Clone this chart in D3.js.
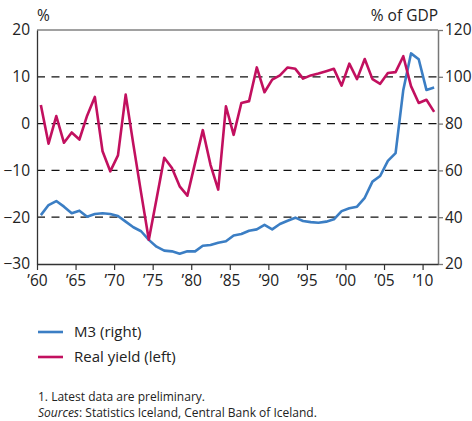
<!DOCTYPE html>
<html>
<head>
<meta charset="utf-8" />
<script src="https://d3js.org/d3.v7.min.js"></script>
<style>
	body { margin: 0; background: #fff; }
	svg text { font-family: "Open Sans", "Noto Sans", sans-serif; fill: #222; }
</style>
</head>
<body>
<div id="chart"></div>
<script>
// annual data, 1960-2011
var years = d3.range(1960, 2012);

// Real yield, % (left axis)
var realYield = [4.0, -4.3, 1.6, -4.1, -1.9, -3.4, 1.7, 5.7, -5.9, -10.2,
	-6.8, 6.2, -4.5, -14.8, -24.8, -16.1, -7.3, -9.5, -13.4, -15.4,
	-8.4, -1.4, -8.8, -14.1, 3.7, -2.4, 4.4, 4.8, 12.0, 6.7,
	9.4, 10.3, 12.0, 11.7, 9.6, 10.3, 10.7, 11.2, 11.7, 8.1,
	12.8, 9.5, 13.8, 9.5, 8.5, 10.8, 11.0, 14.4, 8.0, 4.4,
	5.1, 2.5];

// M3, % of GDP (right axis)
var m3 = [40.9, 45.2, 46.9, 44.5, 41.7, 42.8, 40.2, 41.4, 41.7, 41.4,
	40.5, 38.1, 35.7, 34.0, 30.3, 27.4, 25.7, 25.4, 24.4, 25.4,
	25.4, 27.8, 28.1, 29.1, 29.7, 32.2, 32.8, 34.2, 34.8, 36.7,
	34.8, 37.1, 38.5, 39.8, 38.4, 37.9, 37.6, 38.1, 39.1, 42.6,
	43.8, 44.5, 48.3, 55.2, 57.6, 64.1, 67.4, 94.4, 110.0, 107.5,
	94.4, 95.4];

var leftTicks = [20, 10, 0, -10, -20, -30];
var rightTicks = [120, 100, 80, 60, 40, 20];
var gridLines = [10, 0, -10, -20];
var xTicks = [1960, 1965, 1970, 1975, 1980, 1985, 1990, 1995, 2000, 2005, 2010];

var seriesNames = ["M3 (right)", "Real yield (left)"];
var colors = ["#3b7ec4", "#c2105f"];

var W = 472, H = 421;
var margin = { top: 30, left: 37, right: 34, bottom: 157 };
var width = W - margin.left - margin.right,
	height = H - margin.top - margin.bottom;

var svg = d3.select("#chart").append("svg")
	.attr("width", W)
	.attr("height", H);

var g = svg.append("g")
	.attr("transform", "translate(" + margin.left + "," + margin.top + ")");

var x = d3.scaleLinear().domain([1960, 2012]).range([0, width]);
var yL = d3.scaleLinear().domain([-30, 20]).range([height, 0]);
var yR = d3.scaleLinear().domain([20, 120]).range([height, 0]);

// dashed grid
g.selectAll(".grid")
	.data(gridLines)
	.enter().append("line")
	.attr("x1", 0).attr("x2", width)
	.attr("y1", function (d) { return yL(d); })
	.attr("y2", function (d) { return yL(d); })
	.attr("stroke", "#111")
	.attr("stroke-width", 1.3)
	.attr("stroke-dasharray", "8,6.5");

// frame
g.append("line").attr("x1", 0).attr("x2", width).attr("y1", 0).attr("y2", 0)
	.attr("stroke", "#444").attr("stroke-width", 1.2);

// left axis (labels only)
var leftAxis = g.append("g")
	.call(d3.axisLeft(yL).tickValues(leftTicks).tickSize(0).tickPadding(7).tickFormat(d3.format("d")));
leftAxis.select(".domain").attr("stroke", "#333").attr("stroke-width", 1.3);
leftAxis.selectAll("text").style("font-size", "15.5px").attr("fill", "#222");

// right axis
var rightAxis = g.append("g")
	.attr("transform", "translate(" + width + ",0)")
	.call(d3.axisRight(yR).tickValues(rightTicks).tickSizeInner(5).tickSizeOuter(0).tickPadding(2));
rightAxis.select(".domain").attr("stroke", "#777").attr("stroke-width", 1.5);
rightAxis.selectAll(".tick line").attr("stroke", "#777").attr("stroke-width", 1.3);
rightAxis.selectAll("text").style("font-size", "15.5px").attr("fill", "#222");

// bottom axis
var bottomAxis = g.append("g")
	.attr("transform", "translate(0," + height + ")")
	.call(d3.axisBottom(x).tickValues(xTicks).tickSizeInner(6).tickSizeOuter(0).tickPadding(5)
		.tickFormat(function (d) { return "\u2019" + String(d).slice(2); }));
bottomAxis.select(".domain").attr("stroke", "#333").attr("stroke-width", 1.3);
bottomAxis.selectAll(".tick line").attr("stroke", "#333").attr("stroke-width", 1.2);
bottomAxis.selectAll("text").style("font-size", "15.5px").attr("fill", "#222");

// axis titles
g.append("text").attr("x", 0).attr("y", -9).style("font-size", "15.5px").text("%");
g.append("text").attr("x", width).attr("y", -9).attr("text-anchor", "end")
	.style("font-size", "15.5px").text("% of GDP");

// lines
var lineL = d3.line()
	.x(function (d, i) { return x(years[i] + 0.5); })
	.y(function (d) { return yL(d); });
var lineR = d3.line()
	.x(function (d, i) { return x(years[i] + 0.5); })
	.y(function (d) { return yR(d); });

g.append("path").datum(m3)
	.attr("d", lineR)
	.attr("fill", "none")
	.attr("stroke", colors[0])
	.attr("stroke-width", 2.6)
	.attr("stroke-linejoin", "round");

g.append("path").datum(realYield)
	.attr("d", lineL)
	.attr("fill", "none")
	.attr("stroke", colors[1])
	.attr("stroke-width", 2.6)
	.attr("stroke-linejoin", "round");

// legend
var legend = svg.selectAll(".legend")
	.data(seriesNames)
	.enter().append("g")
	.attr("class", "legend")
	.attr("transform", function (d, i) { return "translate(38," + (332 + i * 25) + ")"; });

legend.append("line")
	.attr("x1", 0).attr("x2", 25)
	.attr("stroke", function (d, i) { return colors[i]; })
	.attr("stroke-width", 2.6);

legend.append("text")
	.attr("x", 36)
	.attr("y", 0)
	.attr("dy", "0.35em")
	.style("font-size", "15px")
	.text(function (d) { return d; });

// notes
svg.append("text").attr("x", 38).attr("y", 401).style("font-size", "12px")
	.text("1. Latest data are preliminary.");
var src = svg.append("text").attr("x", 38).attr("y", 417).style("font-size", "12px");
src.append("tspan").style("font-style", "italic").text("Sources");
src.append("tspan").text(": Statistics Iceland, Central Bank of Iceland.");
</script>
</body>
</html>
